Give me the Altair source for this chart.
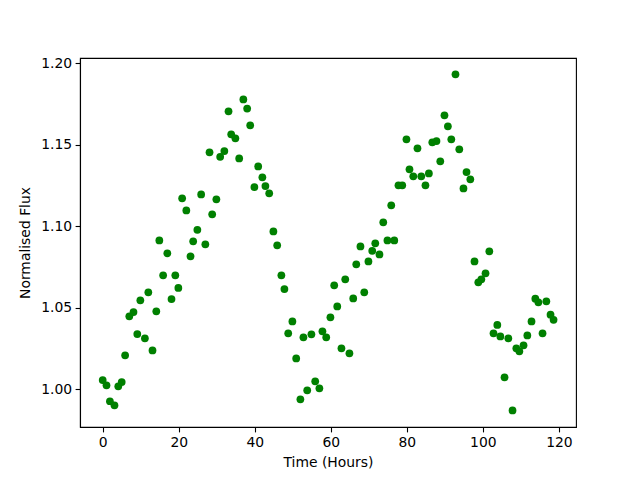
import altair as alt
import pandas as pd

time_hours = [
    0.0, 1.0, 1.9, 3.1, 4.1, 5.0, 5.9, 7.0, 8.1, 9.1,
    9.9, 11.1, 12.0, 13.1, 14.1, 14.9, 15.9, 17.0, 18.1, 19.1,
    19.9, 20.9, 22.0, 23.1, 23.8, 24.9, 25.9, 27.0, 28.1, 28.8,
    29.9, 30.9, 32.0, 33.1, 33.8, 34.9, 35.9, 37.0, 38.0, 38.8,
    39.9, 40.9, 42.0, 42.8, 43.8, 44.9, 45.9, 47.0, 47.8, 48.8,
    49.9, 50.9, 52.0, 52.8, 53.8, 54.9, 55.9, 57.0, 57.8, 58.8,
    59.9, 60.9, 61.7, 62.8, 63.8, 64.9, 65.9, 66.7, 67.8, 68.8,
    69.9, 70.9, 71.7, 72.8, 73.8, 74.9, 75.9, 76.7, 77.8, 78.8,
    79.9, 80.7, 81.7, 82.8, 83.8, 84.9, 85.8, 86.7, 87.8, 88.8,
    89.9, 90.8, 91.7, 92.8, 93.8, 94.9, 95.7, 96.7, 97.8, 98.8,
    99.6, 100.7, 101.7, 102.8, 103.8, 104.6, 105.7, 106.7, 107.8, 108.8,
    109.6, 110.7, 111.7, 112.8, 113.8, 114.6, 115.7, 116.7, 117.8, 118.6,
]

normalised_flux = [
    1.0055, 1.0023, 0.9925, 0.9900, 1.0017, 1.0043, 1.0207, 1.0446, 1.0472, 1.0337,
    1.0544, 1.0311, 1.0593, 1.0237, 1.0477, 1.0912, 1.0698, 1.0833, 1.0552, 1.0698,
    1.0620, 1.1170, 1.1096, 1.0814, 1.0906, 1.0977, 1.1194, 1.0888, 1.1452, 1.1072,
    1.1164, 1.1425, 1.1460, 1.1704, 1.1563, 1.1538, 1.1415, 1.1777, 1.1721, 1.1618,
    1.1239, 1.1366, 1.1299, 1.1245, 1.1201, 1.0967, 1.0882, 1.0698, 1.0613, 1.0342,
    1.0415, 1.0188, 0.9937, 1.0317, 0.9992, 1.0336, 1.0047, 1.0004, 1.0354, 1.0317,
    1.0440, 1.0636, 1.0507, 1.0250, 1.0673, 1.0219, 1.0556, 1.0765, 1.0875, 1.0593,
    1.0783, 1.0848, 1.0894, 1.0826, 1.1023, 1.0912, 1.1127, 1.0912, 1.1250, 1.1250,
    1.1532, 1.1348, 1.1305, 1.1477, 1.1305, 1.1250, 1.1323, 1.1514, 1.1521, 1.1397,
    1.1679, 1.1612, 1.1532, 1.1931, 1.1471, 1.1231, 1.1331, 1.1287, 1.0783, 1.0655,
    1.0673, 1.0710, 1.0845, 1.0342, 1.0393, 1.0323, 1.0072, 1.0311, 0.9869, 1.0250,
    1.0231, 1.0268, 1.0329, 1.0415, 1.0554, 1.0532, 1.0342, 1.0538, 1.0456, 1.0425,
]

x_ticks = [0, 20, 40, 60, 80, 100, 120]
y_ticks = [1.00, 1.05, 1.10, 1.15, 1.20]

df = pd.DataFrame({"time": time_hours, "flux": normalised_flux})

FONT = "DejaVu Sans"

chart = (
    alt.Chart(df)
    .mark_circle(color="#008000", opacity=1, size=60)
    .encode(
        x=alt.X(
            "time:Q",
            title="Time (Hours)",
            scale=alt.Scale(domain=[-5.97, 124.5], nice=False, zero=False),
            axis=alt.Axis(values=x_ticks, format="d", titlePadding=6),
        ),
        y=alt.Y(
            "flux:Q",
            title="Normalised Flux",
            scale=alt.Scale(domain=[0.9767, 1.2031], nice=False, zero=False),
            axis=alt.Axis(values=y_ticks, format=".2f", titlePadding=8),
        ),
    )
    .properties(
        width=496,
        height=369,
        autosize=alt.AutoSizeParams(type="none"),
        padding={"left": 72, "top": 50, "right": 40, "bottom": 52},
        background="white",
    )
    .configure_view(stroke="black", strokeWidth=1.1)
    .configure_axis(
        grid=False,
        domainColor="black",
        domainWidth=1.1,
        tickColor="black",
        tickWidth=1.1,
        tickSize=4.9,
        labelFont=FONT,
        labelFontSize=13.9,
        labelColor="black",
        labelPadding=3.5,
        titleFont=FONT,
        titleFontSize=13.9,
        titleFontWeight="normal",
        titleColor="black",
    )
)

chart.save("out.html", embed_options={"renderer": "svg", "actions": False})
